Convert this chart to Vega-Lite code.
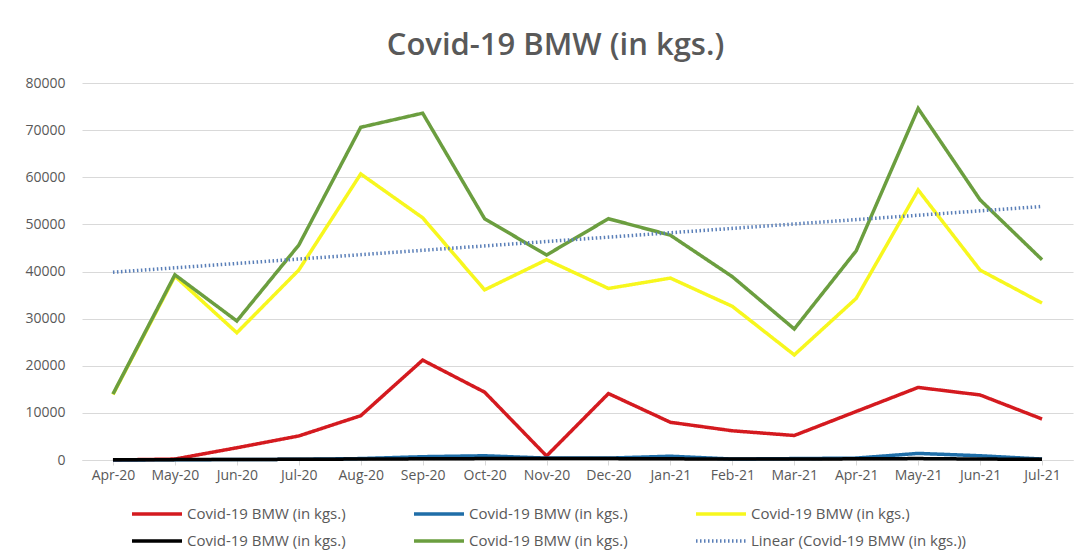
{
  "$schema": "https://vega.github.io/schema/vega-lite/v6.json",
  "autosize": "none",
  "width": 991,
  "height": 377,
  "padding": {"left": 82, "top": 83, "right": 7, "bottom": 95},
  "background": "white",
  "config": {
    "font": "Open Sans",
    "view": {"stroke": null}
  },
  "title": {
    "text": "Covid-19 BMW (in kgs.)",
    "font": "Open Sans",
    "fontSize": 31,
    "fontWeight": 600,
    "color": "#595959",
    "anchor": "middle",
    "dx": -22,
    "offset": 14
  },
  "data": {
    "values": [
      {"m": "Apr-20", "red": 0, "blue": 0, "yellow": 13900, "black": 50, "green": 14000, "trend": 39850},
      {"m": "May-20", "red": 200, "blue": 50, "yellow": 39000, "black": 80, "green": 39300},
      {"m": "Jun-20", "red": 2600, "blue": 100, "yellow": 27000, "black": 100, "green": 29500},
      {"m": "Jul-20", "red": 5100, "blue": 150, "yellow": 40300, "black": 150, "green": 45600},
      {"m": "Aug-20", "red": 9400, "blue": 300, "yellow": 60700, "black": 200, "green": 70600},
      {"m": "Sep-20", "red": 21200, "blue": 700, "yellow": 51400, "black": 250, "green": 73600},
      {"m": "Oct-20", "red": 14400, "blue": 900, "yellow": 36100, "black": 300, "green": 51200},
      {"m": "Nov-20", "red": 850, "blue": 400, "yellow": 42500, "black": 300, "green": 43500},
      {"m": "Dec-20", "red": 14100, "blue": 400, "yellow": 36400, "black": 300, "green": 51200},
      {"m": "Jan-21", "red": 8000, "blue": 800, "yellow": 38600, "black": 250, "green": 47700},
      {"m": "Feb-21", "red": 6200, "blue": 200, "yellow": 32600, "black": 200, "green": 38900},
      {"m": "Mar-21", "red": 5200, "blue": 300, "yellow": 22300, "black": 200, "green": 27800},
      {"m": "Apr-21", "red": 10300, "blue": 400, "yellow": 34300, "black": 250, "green": 44400},
      {"m": "May-21", "red": 15400, "blue": 1400, "yellow": 57300, "black": 300, "green": 74600},
      {"m": "Jun-21", "red": 13800, "blue": 900, "yellow": 40300, "black": 200, "green": 55200},
      {"m": "Jul-21", "red": 8700, "blue": 200, "yellow": 33300, "black": 150, "green": 42500, "trend": 53800}
    ]
  },
  "transform": [
    {"fold": ["red", "blue", "yellow", "black", "green", "trend"], "as": ["series", "value"]},
    {"filter": "isValid(datum.value)"}
  ],
  "mark": {"type": "line", "strokeCap": "butt"},
  "encoding": {
    "x": {
      "field": "m",
      "type": "ordinal",
      "sort": null,
      "scale": {"paddingInner": 0, "paddingOuter": 0},
      "axis": {
        "title": null,
        "labelAngle": 0,
        "labelFontSize": 14,
        "labelColor": "#595959",
        "labelPadding": 3,
        "bandPosition": 0,
        "ticks": true,
        "tickColor": "#d9d9d9",
        "tickSize": 5,
        "domainColor": "#d9d9d9",
        "grid": false
      }
    },
    "y": {
      "field": "value",
      "type": "quantitative",
      "scale": {"domain": [0, 80000], "nice": false},
      "axis": {
        "title": null,
        "values": [0, 10000, 20000, 30000, 40000, 50000, 60000, 70000, 80000],
        "format": "d",
        "labelFontSize": 14,
        "labelColor": "#595959",
        "labelPadding": 17,
        "domain": false,
        "ticks": false,
        "grid": true,
        "gridColor": "#d9d9d9"
      }
    },
    "color": {
      "field": "series",
      "type": "nominal",
      "scale": {
        "domain": ["red", "blue", "yellow", "black", "green", "trend"],
        "range": ["#d41a1f", "#1f6ea8", "#f7f71e", "#000000", "#6b9e3f", "#5a7fb8"]
      },
      "legend": {
        "title": null,
        "orient": "none",
        "direction": "horizontal",
        "legendX": 63,
        "legendY": 419,
        "columns": 3,
        "columnPadding": 61,
        "rowPadding": 7,
        "symbolType": "M-2.5,0H2.5",
        "symbolSize": 400,
        "symbolStrokeWidth": 3.5,
        "labelFontSize": 15,
        "labelColor": "#595959",
        "labelOffset": 18,
        "labelLimit": 300,
        "labelExpr": "datum.label == 'trend' ? 'Linear (Covid-19 BMW (in kgs.))' : 'Covid-19 BMW (in kgs.)'"
      }
    },
    "strokeDash": {
      "field": "series",
      "type": "nominal",
      "scale": {
        "domain": ["red", "blue", "yellow", "black", "green", "trend"],
        "range": [[1, 0], [1, 0], [1, 0], [1, 0], [1, 0], [1.5, 2.5]]
      },
      "legend": null
    },
    "strokeWidth": {
      "field": "series",
      "type": "nominal",
      "scale": {
        "domain": ["red", "blue", "yellow", "black", "green", "trend"],
        "range": [3.5, 3.5, 3.5, 3.5, 3.5, 1.6]
      },
      "legend": null
    }
  }
}
